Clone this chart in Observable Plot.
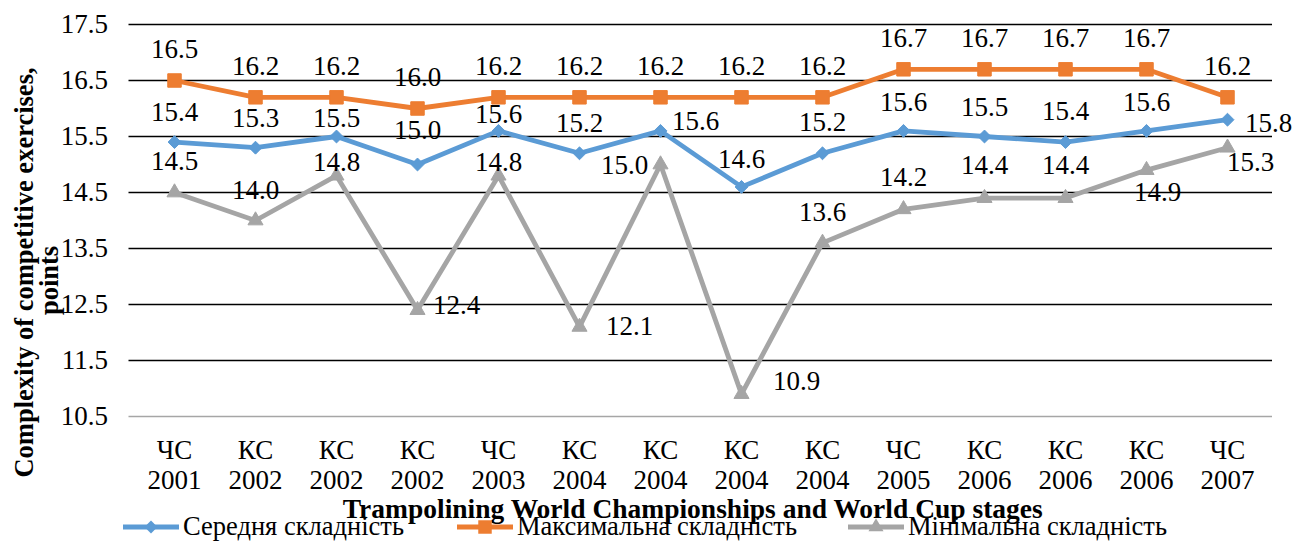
<!DOCTYPE html>
<html>
<head>
<meta charset="utf-8">
<script src="https://cdn.jsdelivr.net/npm/d3@7"></script>
<script src="https://cdn.jsdelivr.net/npm/@observablehq/plot@0.6"></script>
<style>
  body { margin: 0; background: #fff; }
  #wrap { position: relative; width: 1308px; height: 541px; font-family: "Liberation Serif", "Times New Roman", serif; overflow: hidden; }
  .leg { position: absolute; top: 513px; height: 27px; line-height: 27px; font-size: 26.5px; white-space: nowrap; display: flex; align-items: center; color: #000; }
  .leg svg { margin-right: 4px; display: block; }
</style>
</head>
<body>
<div id="wrap"></div>
<script>
// ---- data ----
const categories = ["ЧС 2001", "КС 2002", "КС 2002", "КС 2002", "ЧС 2003", "КС 2004", "КС 2004",
                    "КС 2004", "КС 2004", "ЧС 2005", "КС 2006", "КС 2006", "КС 2006", "ЧС 2007"];
const avgValues = [15.4, 15.3, 15.5, 15.0, 15.6, 15.2, 15.6, 14.6, 15.2, 15.6, 15.5, 15.4, 15.6, 15.8];
const maxValues = [16.5, 16.2, 16.2, 16.0, 16.2, 16.2, 16.2, 16.2, 16.2, 16.7, 16.7, 16.7, 16.7, 16.2];
const minValues = [14.5, 14.0, 14.8, 12.4, 14.8, 12.1, 15.0, 10.9, 13.6, 14.2, 14.4, 14.4, 14.9, 15.3];
const yTicks = [10.5, 11.5, 12.5, 13.5, 14.5, 15.5, 16.5, 17.5];
const seriesNames = ["Середня складність", "Максимальна складність", "Мінімальна складність"];
const yTitleLines = ["Complexity of competitive exercises,", "points"];
const xTitle = "Trampolining World Championships and World Cup stages";

// ---- label placement (offsets in px, separate from data) ----
const avgLabelDx = [0, 0, 0, 0, 0, 0, 35, 0, 0, 0, 0, 0, 0, 41];
const avgLabelDy = [-30, -29, -18, -34, -17, -30, -10, -28, -31, -29, -29, -31, -29, 4];
const maxLabelDx = new Array(14).fill(0);
const maxLabelDy = new Array(14).fill(-31);
const minLabelDx = [0, 0, 0, 39, 0, 50, -36, 55, 0, 0, 0, 0, 11, 23];
const minLabelDy = [-31, -30, -13, -5, -13, -1, 1, -13, -31, -32, -33, -33, 22, 15];

const colors = ["#5B9BD5", "#ED7D31", "#A5A5A5"];
const symbols = ["diamond2", "square", "triangle"];
const symbolR = [5.8, 7.6, 5.6];
const d3Symbols = [d3.symbolDiamond2, d3.symbolSquare, d3.symbolTriangle];

const seriesValues = [avgValues, maxValues, minValues];
const labelDx = [avgLabelDx, maxLabelDx, minLabelDx];
const labelDy = [avgLabelDy, maxLabelDy, minLabelDy];

const rows = seriesValues.map((vals, s) => vals.map((v, i) => ({i, value: v, series: seriesNames[s]})));

const fmt = d3.format(".1f");
const font = '"Liberation Serif", "Times New Roman", serif';

const marks = [
  Plot.ruleY(yTicks.filter(t => t !== yTicks[0]), {stroke: "#000", strokeWidth: 1.4}),
  Plot.ruleY([yTicks[0]], {stroke: "#a6a6a6", strokeWidth: 1.6}),
  Plot.axisY({ticks: yTicks, tickFormat: fmt, tickSize: 0, tickPadding: 21, label: null}),
  Plot.axisX({ticks: d3.range(categories.length), tickFormat: i => categories[i].replace(" ", "\n"),
              tickSize: 0, tickPadding: 22, lineHeight: 1.09, label: null})
];

rows.forEach((data, s) => {
  marks.push(Plot.line(data, {x: "i", y: "value", stroke: colors[s], strokeWidth: 4.8}));
  marks.push(Plot.dot(data, {x: "i", y: "value", symbol: symbols[s], r: symbolR[s], fill: colors[s], stroke: colors[s], strokeWidth: 1}));
});

rows.forEach((data, s) => {
  data.forEach((d, k) => {
    marks.push(Plot.text([d], {x: "i", y: "value", text: d => fmt(d.value), dx: labelDx[s][k], dy: labelDy[s][k],
                               lineAnchor: "middle", fill: "#000"}));
  });
});

marks.push(Plot.text([yTitleLines[0]], {frameAnchor: "left", textAnchor: "middle", text: d => d, rotate: -90, dx: -104.5, dy: 52, fontWeight: "bold", fontSize: 26.5, fill: "#000"}));
marks.push(Plot.text([yTitleLines[1]], {frameAnchor: "left", textAnchor: "middle", text: d => d, rotate: -90, dx: -79.5, dy: 60, fontWeight: "bold", fontSize: 26.5, fill: "#000"}));
marks.push(Plot.text([xTitle], {frameAnchor: "bottom", textAnchor: "middle", text: d => d, lineAnchor: "bottom", dx: -8, dy: 101, fontWeight: "bold", fontSize: 27.5, fill: "#000"}));

const chart = Plot.plot({
  width: 1308,
  height: 541,
  marginTop: 24,
  marginBottom: 125,
  marginLeft: 128.5,
  marginRight: 36,
  style: {fontSize: "27px", fontFamily: font, color: "#000", background: "#fff", overflow: "visible"},
  x: {type: "point", domain: d3.range(categories.length), padding: 0.5},
  y: {domain: [yTicks[0], yTicks[yTicks.length - 1]]},
  marks
});

const wrap = document.getElementById("wrap");
wrap.appendChild(chart);

// ---- legend (below the plot area, Excel style) ----
const legendLeft = [123, 457, 848];
seriesNames.forEach((name, s) => {
  const item = document.createElement("div");
  item.className = "leg";
  item.style.left = legendLeft[s] + "px";
  const svg = d3.create("svg").attr("width", 56).attr("height", 20);
  svg.append("line").attr("x1", 0).attr("x2", 56).attr("y1", 10).attr("y2", 10)
     .attr("stroke", colors[s]).attr("stroke-width", 4.8);
  svg.append("path").attr("d", d3.symbol(d3Symbols[s], symbolR[s] * symbolR[s] * Math.PI)())
     .attr("transform", "translate(28,10)").attr("fill", colors[s]);
  item.appendChild(svg.node());
  const span = document.createElement("span");
  span.textContent = name;
  item.appendChild(span);
  wrap.appendChild(item);
});
</script>
</body>
</html>
